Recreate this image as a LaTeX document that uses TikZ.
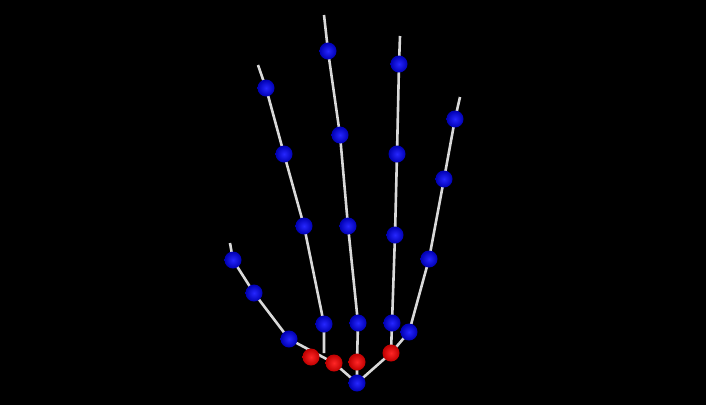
\documentclass[tikz,border=0pt]{standalone}
\begin{document}
\begin{tikzpicture}[x=1pt,y=-1pt,
  bone/.style={draw=black!15, line width=2.6pt},
  bj/.style={circle, inner sep=0pt, minimum size=17pt, inner color=blue!85!white, outer color=blue!70!black, shading=radial},
  rj/.style={circle, inner sep=0pt, minimum size=17pt, inner color=red!85!white, outer color=red!75!black, shading=radial}]
\fill[black] (0,0) rectangle (706,405);
\useasboundingbox (0,0) rectangle (706,405);
% coordinates
\coordinate (w) at (357,383);
\coordinate (r1) at (311,357);
\coordinate (r2) at (334,363);
\coordinate (r3) at (357,362);
\coordinate (r4) at (391,353);
\coordinate (t1) at (289,339);
\coordinate (t2) at (254,293);
\coordinate (t3) at (233,260);
\coordinate (tt) at (230,243);
\coordinate (tj) at (324,353);
\coordinate (i1) at (324,324);
\coordinate (i2) at (304,226);
\coordinate (i3) at (284,154);
\coordinate (i4) at (266,88);
\coordinate (it) at (258,65);
\coordinate (m1) at (358,323);
\coordinate (m2) at (348,226);
\coordinate (m3) at (340,135);
\coordinate (m4) at (328,51);
\coordinate (mt) at (324,15);
\coordinate (g1) at (392,323);
\coordinate (g2) at (395,235);
\coordinate (g3) at (397,154);
\coordinate (g4) at (399,64);
\coordinate (gt) at (400,36);
\coordinate (p1) at (409,332);
\coordinate (p2) at (429,259);
\coordinate (p3) at (444,179);
\coordinate (p4) at (455,119);
\coordinate (pt) at (460,97);
% bones
\draw[bone] (w) -- (r2) -- (t1) -- (t2) -- (t3) -- (tt);
\draw[bone] (tj) -- (i1) -- (i2) -- (i3) -- (i4) -- (it);
\draw[bone] (w) -- (r3) -- (m1) -- (m2) -- (m3) -- (m4) -- (mt);
\draw[bone] (w) -- (r4) -- (p1) -- (p2) -- (p3) -- (p4) -- (pt);
\draw[bone] (r4) -- (g1) -- (g2) -- (g3) -- (g4) -- (gt);
% joints
\foreach \n in {r1,r2,r3,r4} \node[rj] (n\n) at (\n) {};
\foreach \n in {w,t1,t2,t3,i1,i2,i3,i4,m1,m2,m3,m4,g1,g2,g3,g4,p1,p2,p3,p4} \node[bj] (n\n) at (\n) {};
\end{tikzpicture}
\end{document}
